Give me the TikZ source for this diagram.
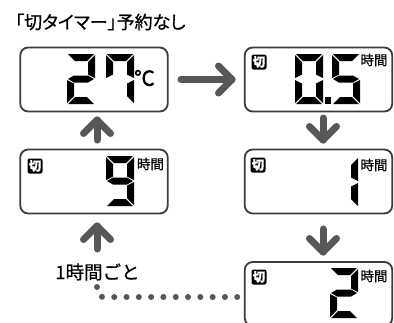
\documentclass[tikz,border=0pt]{standalone}
\usepackage{fontspec}
\setmainfont{Noto Sans CJK JP}[FakeBold=0.6]
\newfontfamily\paltfont{Noto Sans CJK JP}[RawFeature=+palt, FakeBold=0.8]
\usetikzlibrary{calc}
\definecolor{arrgray}{HTML}{575757}
\definecolor{boxgray}{HTML}{3c3c3c}
\newcommand\lcdsegA{\fill (1,0)--(27,0)--(20,7)--(8,7)--cycle;}
\newcommand\lcdsegB{\fill (28,1)--(28,24)--(21,20.5)--(21,8)--cycle;}
\newcommand\lcdsegC{\fill (28,26)--(28,49)--(21,42)--(21,29.5)--cycle;}
\newcommand\lcdsegD{\fill (1,50)--(27,50)--(20,43)--(8,43)--cycle;}
\newcommand\lcdsegE{\fill (0,26)--(0,49)--(7,42)--(7,29.5)--cycle;}
\newcommand\lcdsegF{\fill (0,1)--(0,24)--(7,20.5)--(7,8)--cycle;}
\newcommand\lcdsegG{\fill (1,25)--(7,21.5)--(21,21.5)--(27,25)--(21,28.5)--(7,28.5)--cycle;}
\newcommand\lcddigit[3]{\begin{scope}[shift={(#1,#2)}]\foreach \s in {#3}{\csname lcdseg\s\endcsname}\end{scope}}
\begin{document}
\begin{tikzpicture}[x=1pt,y=-1pt,
 lcdbox/.style={draw=boxgray, line width=1.8pt, rounded corners=8pt, fill=white, minimum width=147.5pt, minimum height=64pt, inner sep=0},
 badge/.style={fill=black, text=white, rounded corners=2pt, minimum width=15pt, minimum height=15pt, inner sep=0, font=\fontsize{12.5}{12.5}\selectfont\bfseries},
 unit/.style={inner sep=0, font=\fontsize{13.5}{13.5}\selectfont},
 arr/.style={draw=arrgray, line width=7pt, line cap=round, line join=round},
 dots/.style={draw=arrgray, line width=6pt, line cap=round, dash pattern=on 0pt off 12.3pt}]
\useasboundingbox (0,0) rectangle (394,322);
\clip (0,0) rectangle (394,322);
\node[anchor=west, inner sep=0, font=\paltfont\fontsize{18}{18}\selectfont] (title) at (15,22) {「切タイマー」予約なし};
% boxes
\node[lcdbox] (b1) at (94,79.5) {};
\node[lcdbox] (b2) at (318.5,79.5) {};
\node[lcdbox] (b3) at (94,181.5) {};
\node[lcdbox] (b4) at (318.5,181.5) {};
\node[lcdbox] (b5) at (318.5,294) {};
% box 1
\lcddigit{67}{54}{A,B,G,E,D}
\lcddigit{106}{54}{A,B,C,F}
\node[inner sep=0, font=\fontsize{21}{21}\selectfont] (c1) at (144.5,78) {℃};
% box 2
\node[badge] (k2) at (259,62) {切};
\lcddigit{295}{54}{A,B,C,D,E,F}
\fill (325,97) rectangle (331,104);
\lcddigit{332}{54}{A,F,G,C,D}
\node[unit] (u2) at (374,60) {時間};
% box 3
\node[badge] (k3) at (35,166) {切};
\lcddigit{106}{156}{A,B,C,D,F,G}
\node[unit] (u3) at (150.5,164) {時間};
% box 4
\node[badge] (k4) at (258,165) {切};
\lcddigit{330}{157}{B,C}
\node[unit] (u4) at (374,165) {時間};
% box 5
\node[badge] (k5) at (259,277) {切};
\lcddigit{330}{268}{A,B,G,E,D}
\node[unit] (u5) at (374,276) {時間};
% arrows
\coordinate (a1s) at (181,79.5); \coordinate (a1e) at (232,79.5);
\draw[arr] (a1s) -- (a1e);
\draw[arr] ($(a1e)+(-13.5,-13.5)$) -- (a1e) -- ($(a1e)+(-13.5,13.5)$);
\coordinate (a2s) at (323,118); \coordinate (a2e) at (323,140);
\draw[arr] (a2s) -- (a2e);
\draw[arr] ($(a2e)+(-13.5,-13.5)$) -- (a2e) -- ($(a2e)+(13.5,-13.5)$);
\coordinate (a3s) at (323,229); \coordinate (a3e) at (323,252);
\draw[arr] (a3s) -- (a3e);
\draw[arr] ($(a3e)+(-13.5,-13.5)$) -- (a3e) -- ($(a3e)+(13.5,-13.5)$);
\coordinate (a4s) at (97,140); \coordinate (a4e) at (97,120);
\draw[arr] (a4s) -- (a4e);
\draw[arr] ($(a4e)+(-13.5,13.5)$) -- (a4e) -- ($(a4e)+(13.5,13.5)$);
\coordinate (a5s) at (97,249); \coordinate (a5e) at (97,226);
\draw[arr] (a5s) -- (a5e);
\draw[arr] ($(a5e)+(-13.5,13.5)$) -- (a5e) -- ($(a5e)+(13.5,13.5)$);
\node[inner sep=0, font=\fontsize{18.5}{18.5}\selectfont] (lbl) at (97.5,272) {1時間ごと};
\coordinate (d1) at (238,297); \coordinate (d2) at (97,287);
\draw[dots, rounded corners=6pt] (d2) -- (97,297) -- (d1);
\end{tikzpicture}
\end{document}
